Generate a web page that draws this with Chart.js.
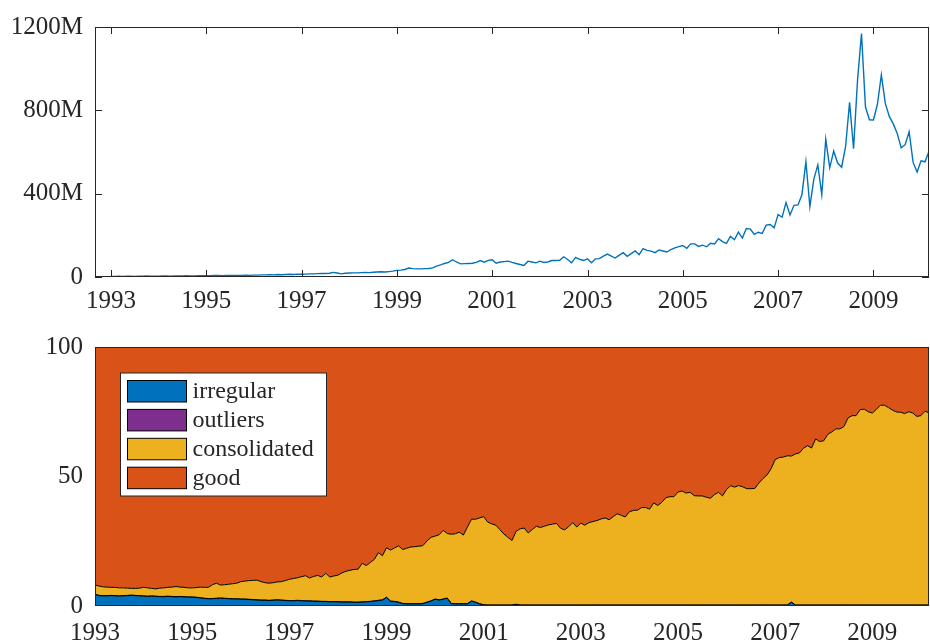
<!DOCTYPE html>
<html>
<head>
<meta charset="utf-8">
<script src="https://cdn.jsdelivr.net/npm/chart.js@4/dist/chart.umd.min.js"></script>
<style>
  html, body { margin: 0; padding: 0; background: #ffffff; }
  #wrap { position: relative; width: 930px; height: 643px; overflow: hidden; }
  #volumeChart { position: absolute; left: 0; top: 0; }
  #qualityChart { position: absolute; left: 0; top: 320px; }
</style>
</head>
<body>
<div id="wrap">
  <canvas id="volumeChart" width="930" height="320"></canvas>
  <canvas id="qualityChart" width="930" height="323"></canvas>
</div>
<script>
// Monthly series, January 1993 to March 2010
const startYear = 1993;
const yearTicks = [1993, 1995, 1997, 1999, 2001, 2003, 2005, 2007, 2009];
const volumeTicks = [0, 400, 800, 1200];
const shareTicks = [0, 50, 100];

// Monthly volume, in millions
const volumeMillions = [
  3, 3, 4, 3, 4, 4, 3, 4, 4, 5, 4, 4,
  4, 5, 5, 4, 5, 5, 5, 6, 5, 5, 6, 6,
  6, 6, 7, 7, 6, 7, 8, 7, 8, 8, 9, 8,
  9, 9, 10, 10, 11, 10, 12, 11, 12, 13, 12, 14,
  13, 14, 15, 15, 16, 17, 17, 18, 22, 19, 15, 18,
  19, 20, 20, 21, 22, 21, 23, 24, 25, 24, 26, 28,
  32, 33, 36, 43, 40, 39, 39, 40, 41, 44, 52, 58,
  65, 70, 83, 72, 63, 64, 65, 66, 70, 79, 71, 80,
  83, 66, 72, 74, 76, 70, 65, 60, 55, 76, 72, 68,
  76, 70, 72, 79, 79, 80, 97, 84, 68, 94, 85, 79,
  87, 68, 87, 88, 100, 110, 100, 91, 105, 117, 99, 112,
  125, 107, 136, 128, 124, 117, 130, 125, 120, 132, 140, 146,
  151, 138, 159, 159, 147, 153, 145, 162, 159, 184, 170, 161,
  195, 179, 215, 187, 233, 230, 205, 215, 209, 249, 252, 236,
  300, 287, 357, 298, 344, 346, 395, 553, 338, 470, 538, 395,
  661, 524, 604, 547, 527, 627, 839, 616, 944, 1168, 816, 755,
  754, 828, 970, 833, 771, 735, 689, 620, 635, 697, 550, 504,
  558, 553, 604
];

// Monthly shares in percent
const irregular = [
  4.5, 4.0, 3.9, 3.9, 4.0, 3.9, 3.8, 3.9, 4.0, 4.1, 4.0, 3.9,
  3.8, 3.7, 3.8, 3.7, 3.6, 3.6, 3.7, 3.6, 3.5, 3.6, 3.5, 3.4,
  3.4, 3.3, 3.1, 2.9, 2.8, 2.8, 2.9, 3.0, 2.9, 2.8, 2.7, 2.7,
  2.6, 2.6, 2.5, 2.4, 2.3, 2.2, 2.2, 2.1, 2.2, 2.3, 2.2, 2.1,
  2.0, 2.0, 2.1, 2.0, 1.9, 1.9, 1.8, 1.8, 1.7, 1.7, 1.6, 1.6,
  1.6, 1.5, 1.5, 1.5, 1.4, 1.4, 1.5, 1.6, 1.7, 1.9, 2.1, 2.3,
  3.3, 1.8, 1.7, 1.4, 0.9, 0.8, 0.8, 0.8, 0.8, 0.9, 1.4, 1.9,
  2.6, 2.3, 2.6, 3.0, 0.9, 0.8, 0.8, 0.8, 0.8, 1.9, 1.4, 0.8,
  0.4, 0.3, 0.3, 0.3, 0.3, 0.3, 0.3, 0.3, 0.6, 0.3, 0.3, 0.3,
  0.3, 0.3, 0.3, 0.3, 0.3, 0.3, 0.3, 0.3, 0.3, 0.3, 0.3, 0.3,
  0.3, 0.3, 0.3, 0.3, 0.3, 0.3, 0.3, 0.3, 0.3, 0.3, 0.3, 0.3,
  0.3, 0.3, 0.3, 0.3, 0.3, 0.3, 0.3, 0.3, 0.3, 0.3, 0.3, 0.3,
  0.3, 0.3, 0.3, 0.3, 0.3, 0.3, 0.3, 0.3, 0.3, 0.3, 0.3, 0.3,
  0.3, 0.3, 0.3, 0.3, 0.3, 0.3, 0.3, 0.3, 0.3, 0.3, 0.3, 0.3,
  0.3, 0.3, 0.3, 0.3, 1.4, 0.3, 0.3, 0.3, 0.3, 0.3, 0.3, 0.3,
  0.3, 0.3, 0.3, 0.3, 0.3, 0.3, 0.3, 0.3, 0.3, 0.3, 0.3, 0.3,
  0.3, 0.3, 0.3, 0.3, 0.3, 0.3, 0.3, 0.3, 0.3, 0.3, 0.3, 0.3,
  0.3, 0.3, 0.3
];

const outliers = [
  0.1, 0.1, 0.1, 0.1, 0.1, 0.1, 0.1, 0.1, 0.1, 0.1, 0.1, 0.1,
  0.1, 0.1, 0.1, 0.1, 0.1, 0.1, 0.1, 0.1, 0.1, 0.1, 0.1, 0.1,
  0.1, 0.1, 0.1, 0.1, 0.1, 0.1, 0.1, 0.1, 0.1, 0.1, 0.1, 0.1,
  0.1, 0.1, 0.1, 0.1, 0.1, 0.1, 0.1, 0.1, 0.1, 0.1, 0.1, 0.1,
  0.1, 0.1, 0.1, 0.1, 0.1, 0.1, 0.1, 0.1, 0.1, 0.1, 0.1, 0.1,
  0.1, 0.1, 0.1, 0.1, 0.1, 0.1, 0.1, 0.1, 0.1, 0.1, 0.1, 0.1,
  0.1, 0.1, 0.1, 0.1, 0.1, 0.1, 0.1, 0.1, 0.1, 0.1, 0.1, 0.1,
  0.1, 0.1, 0.1, 0.1, 0.1, 0.1, 0.1, 0.1, 0.1, 0.1, 0.1, 0.1,
  0.1, 0.1, 0.1, 0.1, 0.1, 0.1, 0.1, 0.1, 0.1, 0.1, 0.1, 0.1,
  0.1, 0.1, 0.1, 0.1, 0.1, 0.1, 0.1, 0.1, 0.1, 0.1, 0.1, 0.1,
  0.1, 0.1, 0.1, 0.1, 0.1, 0.1, 0.1, 0.1, 0.1, 0.1, 0.1, 0.1,
  0.1, 0.1, 0.1, 0.1, 0.1, 0.1, 0.1, 0.1, 0.1, 0.1, 0.1, 0.1,
  0.1, 0.1, 0.1, 0.1, 0.1, 0.1, 0.1, 0.1, 0.1, 0.1, 0.1, 0.1,
  0.1, 0.1, 0.1, 0.1, 0.1, 0.1, 0.1, 0.1, 0.1, 0.1, 0.1, 0.1,
  0.1, 0.1, 0.1, 0.1, 0.1, 0.1, 0.1, 0.1, 0.1, 0.1, 0.1, 0.1,
  0.1, 0.1, 0.1, 0.1, 0.1, 0.1, 0.1, 0.1, 0.1, 0.1, 0.1, 0.1,
  0.1, 0.1, 0.1, 0.1, 0.1, 0.1, 0.1, 0.1, 0.1, 0.1, 0.1, 0.1,
  0.1, 0.1, 0.1
];

const consolidated = [
  3.5, 3.6, 3.4, 3.3, 3.1, 3.2, 3.1, 3.0, 2.8, 2.6, 2.7, 2.9,
  3.3, 3.2, 2.9, 2.8, 3.2, 3.3, 3.4, 3.6, 3.9, 3.6, 3.6, 3.5,
  3.5, 3.7, 4.1, 4.2, 4.3, 5.3, 5.8, 5.0, 5.2, 5.5, 5.8, 6.0,
  6.7, 6.9, 7.2, 7.4, 7.6, 7.1, 6.7, 6.6, 6.7, 6.9, 7.1, 7.6,
  8.2, 8.5, 8.7, 9.2, 9.7, 8.8, 9.5, 9.9, 9.4, 10.8, 9.5, 9.9,
  10.2, 11.2, 11.8, 12.2, 12.6, 12.7, 14.9, 13.9, 15.0, 16.0, 18.4, 17.0,
  19.1, 19.7, 20.6, 21.7, 20.8, 21.4, 21.9, 22.0, 22.2, 22.3, 23.6, 24.5,
  24.3, 25.1, 26.5, 24.9, 26.7, 27.0, 27.6, 26.5, 29.6, 31.5, 32.0, 33.1,
  34.0, 32.0, 31.3, 30.8, 29.1, 27.4, 26.1, 24.9, 28.1, 29.4, 29.7, 27.8,
  29.1, 30.4, 29.9, 30.4, 30.9, 31.2, 31.5, 29.6, 29.0, 30.2, 31.8, 30.1,
  31.6, 30.8, 31.8, 32.2, 32.6, 33.2, 33.6, 32.9, 34.1, 35.2, 34.6, 34.0,
  36.0, 36.5, 36.6, 37.6, 37.6, 37.0, 39.4, 38.4, 39.6, 41.4, 41.8, 41.8,
  43.6, 44.0, 43.2, 43.5, 42.2, 42.1, 42.1, 41.6, 41.2, 42.6, 43.5, 42.1,
  44.6, 46.0, 45.5, 46.1, 45.6, 44.9, 44.9, 45.0, 47.1, 48.8, 50.2, 52.6,
  56.1, 56.9, 57.1, 57.6, 56.4, 58.3, 58.7, 60.5, 61.5, 60.6, 64.1, 63.1,
  63.4, 65.9, 66.8, 68.0, 68.0, 68.9, 72.2, 73.1, 73.1, 75.4, 75.6, 74.6,
  74.1, 75.5, 77.1, 77.1, 76.2, 75.2, 74.5, 74.4, 73.9, 74.6, 74.1, 72.8,
  73.1, 74.8, 74.2
];

const good = [
  91.9, 92.3, 92.6, 92.7, 92.8, 92.8, 93.0, 93.0, 93.1, 93.2, 93.2, 93.1,
  92.8, 93.0, 93.2, 93.4, 93.1, 93.0, 92.8, 92.7, 92.5, 92.7, 92.8, 93.0,
  93.0, 92.9, 92.7, 92.8, 92.8, 91.8, 91.2, 91.9, 91.8, 91.6, 91.4, 91.2,
  90.6, 90.4, 90.2, 90.1, 90.0, 90.6, 91.0, 91.2, 91.0, 90.7, 90.6, 90.2,
  89.7, 89.4, 89.1, 88.7, 88.3, 89.2, 88.6, 88.2, 88.8, 87.4, 88.8, 88.4,
  88.1, 87.2, 86.6, 86.2, 85.9, 85.8, 83.5, 84.4, 83.2, 82.0, 79.4, 80.6,
  77.5, 78.4, 77.6, 76.8, 78.2, 77.7, 77.2, 77.1, 76.9, 76.7, 74.9, 73.5,
  73.0, 72.5, 70.8, 72.0, 72.3, 72.1, 71.5, 72.6, 69.5, 66.5, 66.5, 66.0,
  65.5, 67.6, 68.3, 68.8, 70.5, 72.2, 73.5, 74.7, 71.2, 70.2, 69.9, 71.8,
  70.5, 69.2, 69.7, 69.2, 68.7, 68.4, 68.1, 70.0, 70.6, 69.4, 67.8, 69.5,
  68.0, 68.8, 67.8, 67.4, 67.0, 66.4, 66.0, 66.7, 65.5, 64.4, 65.0, 65.6,
  63.6, 63.1, 63.0, 62.0, 62.0, 62.6, 60.2, 61.2, 60.0, 58.2, 57.8, 57.8,
  56.0, 55.6, 56.4, 56.1, 57.4, 57.5, 57.5, 58.0, 58.4, 57.0, 56.1, 57.5,
  55.0, 53.6, 54.1, 53.5, 54.0, 54.7, 54.7, 54.6, 52.5, 50.8, 49.4, 47.0,
  43.5, 42.7, 42.5, 42.0, 42.1, 41.3, 40.9, 39.1, 38.1, 39.0, 35.5, 36.5,
  36.2, 33.7, 32.8, 31.6, 31.6, 30.7, 27.4, 26.5, 26.5, 24.2, 24.0, 25.0,
  25.5, 24.1, 22.5, 22.5, 23.4, 24.4, 25.1, 25.2, 25.7, 25.0, 25.5, 26.8,
  26.5, 24.8, 25.4
];

const seriesNames = ['irregular', 'outliers', 'consolidated', 'good'];
const seriesColors = ['#0072BD', '#7E2F8E', '#EDB120', '#D95319'];

const axisColor = '#262626';
const tickFont = { family: "'Liberation Serif', 'Times New Roman', serif", size: 25 };
const legendFont = "24px 'Liberation Serif', 'Times New Roman', serif";

// month index -> decimal year
const monthYear = i => startYear + i / 12;
const toPoints = arr => arr.map((v, i) => ({ x: monthYear(i), y: v }));

// Axes box with optional inward tick marks on all four sides
const framePlugin = {
  id: 'frame',
  afterDatasetsDraw(chart, args, opts) {
    const { ctx, chartArea: a, scales } = chart;
    ctx.save();
    ctx.strokeStyle = opts.color || axisColor;
    ctx.lineWidth = 1;
    const L = opts.tickLength || 0;
    if (L > 0) {
      ctx.beginPath();
      scales.x.ticks.forEach(t => {
        const px = Math.round(scales.x.getPixelForValue(t.value)) + 0.5;
        ctx.moveTo(px, a.bottom); ctx.lineTo(px, a.bottom - L);
        ctx.moveTo(px, a.top); ctx.lineTo(px, a.top + L);
      });
      scales.y.ticks.forEach(t => {
        const py = Math.round(scales.y.getPixelForValue(t.value)) + 0.5;
        ctx.moveTo(a.left, py); ctx.lineTo(a.left + L, py);
        ctx.moveTo(a.right, py); ctx.lineTo(a.right - L, py);
      });
      ctx.stroke();
    }
    ctx.strokeRect(Math.round(a.left) + 0.5, Math.round(a.top) + 0.5,
                   Math.round(a.right - a.left) - 1, Math.round(a.bottom - a.top) - 1);
    ctx.restore();
  }
};

// Boxed legend inside the upper-left corner of the plot area
const boxLegendPlugin = {
  id: 'boxLegend',
  afterDraw(chart) {
    const { ctx, chartArea: a } = chart;
    const sets = chart.data.datasets;
    const left = a.left + 25.5, top = a.top + 26, width = 206, height = 123;
    ctx.save();
    ctx.fillStyle = '#ffffff';
    ctx.fillRect(left, top, width, height);
    ctx.strokeStyle = axisColor;
    ctx.lineWidth = 1;
    ctx.strokeRect(left, top, width, height);
    ctx.font = legendFont;
    ctx.textBaseline = 'middle';
    ctx.textAlign = 'left';
    sets.forEach((ds, k) => {
      const sy = top + 7.5 + k * 28.9;
      ctx.fillStyle = ds.backgroundColor;
      ctx.fillRect(left + 7, sy, 59, 21.5);
      ctx.strokeStyle = '#000000';
      ctx.strokeRect(left + 7, sy, 59, 21.5);
      ctx.fillStyle = axisColor;
      ctx.fillText(ds.label, left + 72, sy + 11.5);
    });
    ctx.restore();
  }
};

const setYearTicks = s => { s.ticks = yearTicks.map(v => ({ value: v })); };

// Upper panel: monthly volume
new Chart(document.getElementById('volumeChart'), {
  type: 'line',
  data: {
    datasets: [{
      label: 'volume',
      data: toPoints(volumeMillions),
      borderColor: '#0072BD',
      borderWidth: 1.4,
      pointRadius: 0,
      tension: 0,
      fill: false
    }]
  },
  options: {
    responsive: false,
    animation: false,
    devicePixelRatio: 1,
    layout: { padding: { top: 18, right: 1, left: 0, bottom: 0 } },
    plugins: {
      legend: { display: false },
      tooltip: { enabled: false },
      frame: { tickLength: 7 }
    },
    scales: {
      x: {
        type: 'linear',
        min: 1992.664,
        max: 2010.1667,
        afterBuildTicks: setYearTicks,
        afterFit: s => { s.height = 43; },
        grid: { display: false, drawTicks: false },
        border: { display: false },
        ticks: {
          autoSkip: false, maxRotation: 0, padding: 9,
          color: axisColor, font: tickFont,
          callback: v => String(v)
        }
      },
      y: {
        type: 'linear',
        min: 0,
        max: 1200,
        afterBuildTicks: s => { s.ticks = volumeTicks.map(v => ({ value: v })); },
        afterFit: s => { s.width = 95; },
        grid: { display: false, drawTicks: false },
        border: { display: false },
        ticks: {
          padding: 12, color: axisColor, font: tickFont,
          callback: v => (v === 0 ? '0' : v + 'M')
        }
      }
    }
  },
  plugins: [framePlugin]
});

// Lower panel: stacked shares
const shareSeries = [irregular, outliers, consolidated, good];
new Chart(document.getElementById('qualityChart'), {
  type: 'line',
  data: {
    datasets: shareSeries.map((arr, k) => ({
      label: seriesNames[k],
      data: toPoints(arr),
      backgroundColor: seriesColors[k],
      borderColor: '#000000',
      borderWidth: 1,
      pointRadius: 0,
      tension: 0,
      fill: k === 0 ? 'origin' : '-1'
    }))
  },
  options: {
    responsive: false,
    animation: false,
    devicePixelRatio: 1,
    layout: { padding: { top: 27, right: 1, left: 0, bottom: 0 } },
    plugins: {
      legend: { display: false },
      tooltip: { enabled: false },
      filler: { propagate: false },
      frame: { tickLength: 0 }
    },
    scales: {
      x: {
        type: 'linear',
        min: 1993,
        max: 2010.1667,
        afterBuildTicks: setYearTicks,
        afterFit: s => { s.height = 37; },
        grid: { display: false, drawTicks: false },
        border: { display: false },
        ticks: {
          autoSkip: false, maxRotation: 0, padding: 12,
          color: axisColor, font: tickFont,
          callback: v => String(v)
        }
      },
      y: {
        type: 'linear',
        stacked: true,
        min: 0,
        max: 100,
        afterBuildTicks: s => { s.ticks = shareTicks.map(v => ({ value: v })); },
        afterFit: s => { s.width = 95; },
        grid: { display: false, drawTicks: false },
        border: { display: false },
        ticks: {
          padding: 12, color: axisColor, font: tickFont,
          callback: v => String(v)
        }
      }
    }
  },
  plugins: [framePlugin, boxLegendPlugin]
});
</script>
</body>
</html>
